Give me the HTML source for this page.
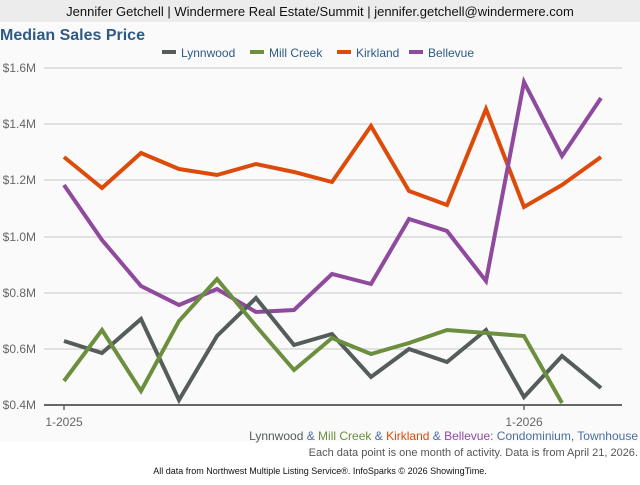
<!DOCTYPE html>
<html><head><meta charset="utf-8"><style>
body{margin:0;width:640px;height:480px;background:#fff;overflow:hidden;font-family:"Liberation Sans",sans-serif}
</style></head><body>
<svg width="640" height="480" xmlns="http://www.w3.org/2000/svg" font-family="Liberation Sans, sans-serif">
<rect x="0" y="0" width="640" height="22" fill="#ececec"/>
<text x="320" y="16" font-size="13" text-anchor="middle" fill="#111">Jennifer Getchell | Windermere Real Estate/Summit | jennifer.getchell@windermere.com</text>
<rect x="0" y="22" width="640" height="420" fill="#fafafa"/>
<text x="0" y="40" font-size="16" font-weight="bold" fill="#2e5a86">Median Sales Price</text>
<g font-size="12" fill="#2e5a86">
<rect x="162" y="50" width="14" height="4" fill="#545c5c"/><text x="181" y="57">Lynnwood</text>
<rect x="250" y="50" width="14" height="4" fill="#6b8f3e"/><text x="269" y="57">Mill Creek</text>
<rect x="337" y="50" width="14" height="4" fill="#dd4b0a"/><text x="356" y="57">Kirkland</text>
<rect x="409" y="50" width="14" height="4" fill="#8f4a9e"/><text x="428" y="57">Bellevue</text>
</g>
<g stroke="#c8c8c8" stroke-width="1">
<line x1="44" y1="68" x2="622" y2="68"/><line x1="44" y1="124" x2="622" y2="124"/><line x1="44" y1="180" x2="622" y2="180"/><line x1="44" y1="237" x2="622" y2="237"/><line x1="44" y1="293" x2="622" y2="293"/><line x1="44" y1="349" x2="622" y2="349"/>
</g>
<g font-size="12" fill="#666" text-anchor="end">
<text x="36" y="72">$1.6M</text><text x="36" y="128">$1.4M</text><text x="36" y="184">$1.2M</text><text x="36" y="241">$1.0M</text><text x="36" y="297">$0.8M</text><text x="36" y="353">$0.6M</text><text x="36" y="409">$0.4M</text>
</g>
<g fill="none" stroke-width="4" stroke-linejoin="miter">
<polyline stroke="#dd4b0a" points="64,157 102,188 141,153 179,169 217,175 256,164 294,172 332,182 371,126 409,191 447,205 486,109 524,207 562,185 601,157"/>
<polyline stroke="#8f4a9e" points="64,185 102,240 141,286 179,305 217,289 256,312 294,310 332,274 371,284 409,219 447,231 486,281 524,82 562,156 601,98"/>
<polyline stroke="#545c5c" points="64,341 102,353 141,319 179,400 217,336 256,298 294,345 332,334 371,377 409,349 447,362 486,330 524,397 562,356 601,388"/>
<polyline stroke="#6b8f3e" points="64,381 102,330 141,391 179,321 217,279 256,326 294,370 332,338 371,354 409,343 447,330 486,333 524,336 562,403"/>
</g>
<line x1="44" y1="405" x2="622" y2="405" stroke="#666" stroke-width="2"/>
<line x1="64" y1="405" x2="64" y2="410" stroke="#666" stroke-width="1.5"/>
<line x1="524" y1="405" x2="524" y2="410" stroke="#666" stroke-width="1.5"/>
<g font-size="12" fill="#666" text-anchor="middle"><text x="64" y="426">1-2025</text><text x="524" y="426">1-2026</text></g>
<text x="638" y="440" font-size="12" text-anchor="end"><tspan fill="#545c5c">Lynnwood</tspan><tspan fill="#4a6f9e"> &amp; </tspan><tspan fill="#6b8f3e">Mill Creek</tspan><tspan fill="#4a6f9e"> &amp; </tspan><tspan fill="#dd4b0a">Kirkland</tspan><tspan fill="#4a6f9e"> &amp; </tspan><tspan fill="#8f4a9e">Bellevue</tspan><tspan fill="#4a6f9e">: Condominium, Townhouse</tspan></text>
<text x="638" y="456" font-size="11" text-anchor="end" fill="#555">Each data point is one month of activity. Data is from April 21, 2026.</text>
<text x="320" y="474" font-size="9" text-anchor="middle" fill="#111">All data from Northwest Multiple Listing Service®. InfoSparks © 2026 ShowingTime.</text>
</svg>
</body></html>
